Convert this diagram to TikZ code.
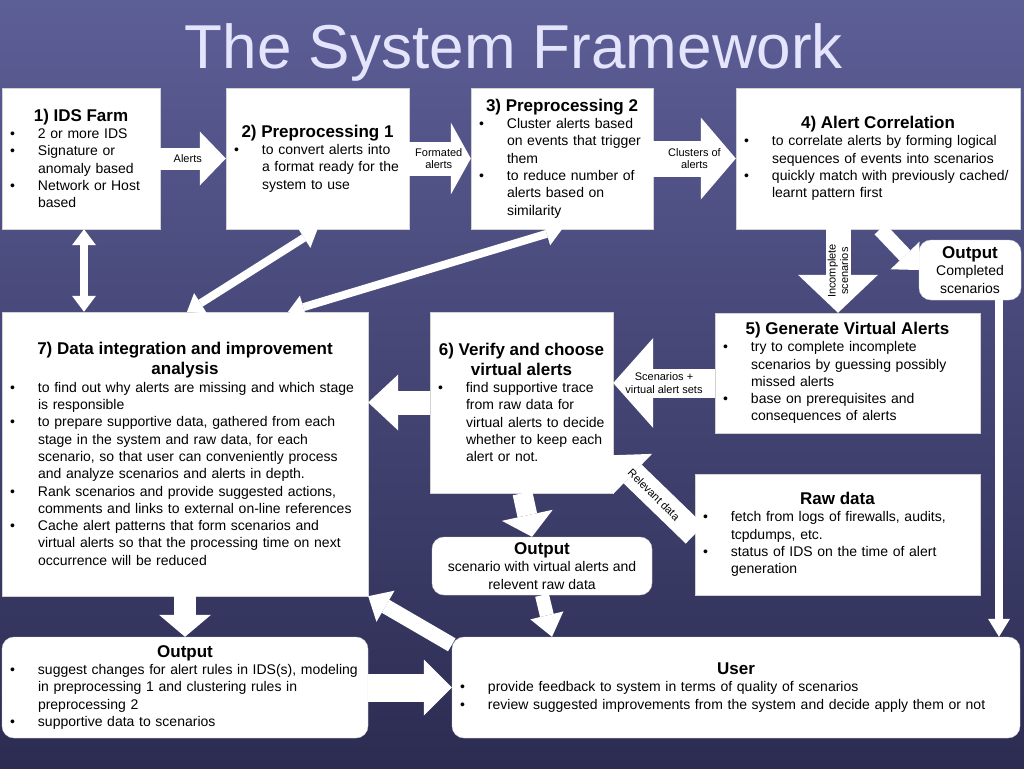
\documentclass[tikz,border=0pt]{standalone}
\usepackage{fontspec}
\setmainfont{Liberation Sans}
\usetikzlibrary{calc,arrows.meta}
\definecolor{bgtop}{RGB}{92,94,150}
\definecolor{bgbot}{RGB}{44,44,82}
\definecolor{titcol}{RGB}{228,228,252}
\newcommand{\ttl}[1]{{\noindent\centering\bfseries\fontsize{17}{20}\selectfont #1\par}}
\newcommand{\itm}[1]{\par{\leftskip=30pt\noindent\llap{\textbullet\hspace{23pt}}#1\par}}

\begin{document}
\begin{tikzpicture}[x=1pt,y=-1pt,
    box/.style={fill=white,draw=gray!35,inner xsep=6pt,inner ysep=0pt,align=left,
                font=\fontsize{14}{17.3}\selectfont},
    rbox/.style={box,rounded corners=12pt},
    blk/.style n args={3}{white,line width=#1pt,
                -{Triangle[length=#3pt,width=#2pt,line width=0pt]}},
    dbl/.style={white,line width=8pt,
                {Triangle[length=16pt,width=24pt,line width=0pt]}-{Triangle[length=16pt,width=24pt,line width=0pt]}},
    lbl/.style={text=black,font=\fontsize{11}{12.5}\selectfont,align=center,inner sep=0pt}]
    \shade[top color=bgtop,bottom color=bgbot] (0,0) rectangle (1024,768); %sfondo
    \useasboundingbox (0,0) rectangle (1024,768);
    \node[font=\fontsize{62}{62}\selectfont,text=titcol,anchor=base] (tit) at (514,68) {The System Framework};
    % riga in alto
    \node[box,minimum width=158pt,minimum height=141pt,text width=146pt] (farm) at (81,158.5)
      {\ttl{1) IDS Farm}\itm{2 or more IDS}\itm{Signature or\\anomaly based}\itm{Network or Host\\based}};
    \node[box,minimum width=183pt,minimum height=141pt,text width=171pt] (pre1) at (317.5,158.5)
      {\ttl{2) Preprocessing 1}\itm{to convert alerts into\\a format ready for the\\system to use}};
    \node[box,minimum width=182pt,minimum height=141pt,text width=170pt] (pre2) at (562,158.5)
      {\ttl{3) Preprocessing 2}\itm{Cluster alerts based\\on events that trigger\\them}\itm{to reduce number of\\alerts based on\\similarity}};
    \node[box,minimum width=284pt,minimum height=141pt,text width=272pt] (corr) at (878,158.5)
      {\ttl{4) Alert Correlation}\itm{to correlate alerts by forming logical\\sequences of events into scenarios}\itm{quickly match with previously cached/\\learnt pattern first}};
    \node[rbox,align=center,minimum width=102pt,minimum height=60pt,inner xsep=2pt] (outc) at (970,270)
      {{\bfseries\fontsize{17}{20}\selectfont Output}\\Completed\\scenarios};
    % riga centrale
    \node[box,minimum width=265pt,minimum height=120pt,text width=253pt] (gen) at (847.5,373)
      {\ttl{5) Generate Virtual Alerts}\itm{try to complete incomplete\\scenarios by guessing possibly\\missed alerts}\itm{base on prerequisites and\\consequences of alerts}};
    \node[box,minimum width=183pt,minimum height=181pt,text width=171pt] (ver) at (521.5,402.5)
      {\ttl{6) Verify and choose\\virtual alerts}\itm{find supportive trace\\from raw data for\\virtual alerts to decide\\whether to keep each\\alert or not.}};
    \node[box,minimum width=366pt,minimum height=284pt,text width=354pt] (dat) at (185,454)
      {\ttl{7) Data integration and improvement\\analysis}\itm{to find out why alerts are missing and which stage\\is responsible}\itm{to prepare supportive data, gathered from each\\stage in the system and raw data, for each\\scenario, so that user can conveniently process\\and analyze scenarios and alerts in depth.}\itm{Rank scenarios and provide suggested actions,\\comments and links to external on-line references}\itm{Cache alert patterns that form scenarios and\\virtual alerts so that the processing time on next\\occurrence will be reduced}};
    \node[box,minimum width=285pt,minimum height=121pt,text width=273pt] (raw) at (837.5,534.5)
      {\ttl{Raw data}\itm{fetch from logs of firewalls, audits,\\tcpdumps, etc.}\itm{status of IDS on the time of alert\\generation}};
    \node[rbox,align=center,minimum width=220pt,minimum height=58pt] (outsc) at (542,566)
      {{\bfseries\fontsize{17}{20}\selectfont Output}\\scenario with virtual alerts and\\relevent raw data};
    % riga in basso
    \node[rbox,minimum width=366pt,minimum height=101pt,text width=354pt] (outl) at (185,687.5)
      {\ttl{Output}\itm{suggest changes for alert rules in IDS(s), modeling\\in preprocessing 1 and clustering rules in\\preprocessing 2}\itm{supportive data to scenarios}};
    \node[rbox,minimum width=568pt,minimum height=101pt,text width=556pt] (user) at (736,687.5)
      {\ttl{User}\itm{provide feedback to system in terms of quality of scenarios}\itm{review suggested improvements from the system and decide apply them or not}};
    % punti ausiliari
    \coordinate (ic) at ([xshift=-40pt]corr.south);
    \coordinate (sv) at ([yshift=-10pt]gen.west);
    \coordinate (rd1) at ([yshift=61pt]raw.south west);
    \coordinate (rd2) at ([yshift=38pt]ver.south east);
    \coordinate (ou) at ([xshift=10pt]outsc.south);
    \coordinate (uc) at ([yshift=-8pt]user.north west);
    \coordinate (oc) at ([xshift=29pt]outc.south);
    \coordinate (d1) at ([xshift=3pt]farm.south);
    \coordinate (d2) at ([xshift=2pt]dat.north);
    \coordinate (d3) at ([xshift=103pt]dat.north);
    % frecce
    \draw[blk={22}{54}{26}] (farm.east) -- node[lbl,pos=.42] {Alerts} (pre1.west);
    \draw[blk={34}{72}{20}] (pre1.east) -- node[lbl,pos=.48] {Formated\\alerts} (pre2.west);
    \draw[blk={36}{82}{35}] (pre2.east) -- node[lbl,pos=.5] {Clusters of\\alerts} (corr.west);
    \draw[blk={25}{80}{38}] (ic) -- node[lbl,rotate=90] {Incomplete\\scenarios} (ic |- gen.north);
    \draw[blk={15}{40}{20}] ([xshift=2pt]corr.south) -- (outc.west);
    \draw[blk={29}{90}{40}] (sv) -- node[lbl] {Scenarios +\\virtual alert sets} (sv -| ver.east);
    \draw[blk={24}{56}{30}] (ver.west) -- (ver.west -| dat.east);
    \draw[blk={26}{56}{27}] (rd1) -- node[lbl,rotate=-45] {Relevant data} (rd2);
    \draw[blk={20}{52}{22}] ([xshift=1pt]ver.south) -- ([xshift=-10pt]outsc.north);
    \draw[blk={14}{34}{22}] (outsc.south) -- (ou |- user.north);
    \draw[blk={15}{36}{20}] (uc) -- (dat.south east);
    \draw[blk={22}{52}{22}] (dat.south) -- (outl.north);
    \draw[blk={28}{56}{28}] (outl.east) -- (user.west);
    \draw[blk={8}{22}{18}] (oc) -- (oc |- user.north);
    \draw[dbl] (d1) -- (d1 |- dat.north);
    \draw[dbl] (pre1.south) -- (d2);
    \draw[dbl] (pre2.south) -- (d3);
\end{tikzpicture}
\end{document}
